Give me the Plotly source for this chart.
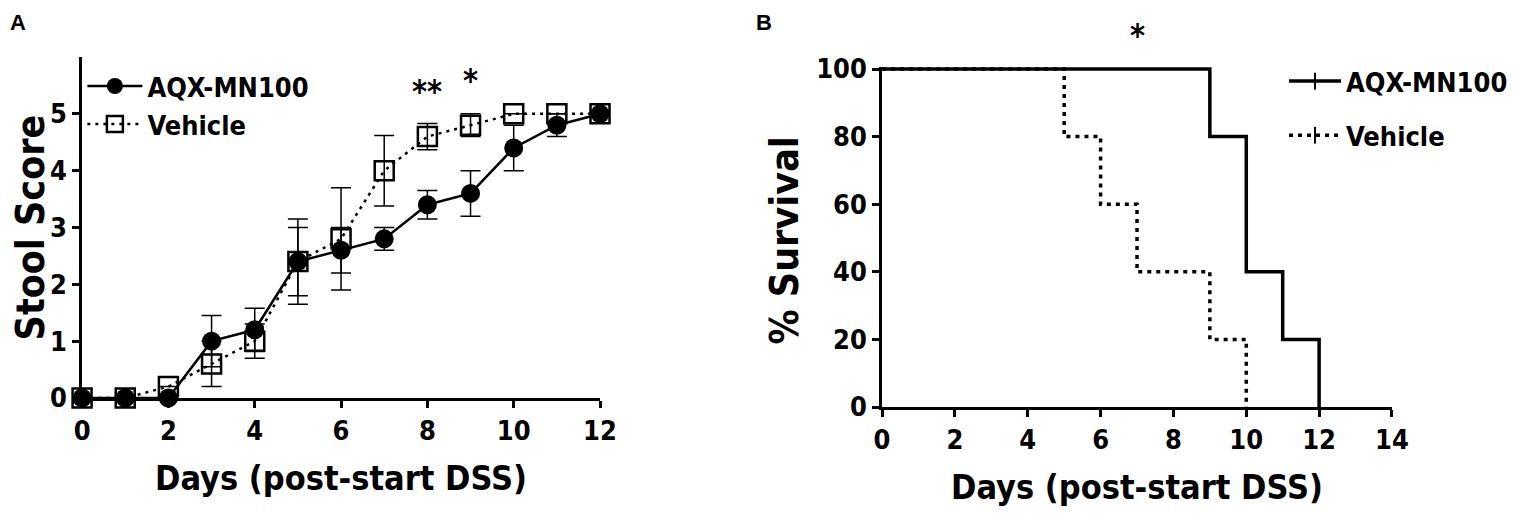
import plotly.graph_objects as go

# Panel A: stool score over time
days = [0, 1, 2, 3, 4, 5, 6, 7, 8, 9, 10, 11, 12]
aqx_score = [0, 0, 0, 1.0, 1.2, 2.4, 2.6, 2.8, 3.4, 3.6, 4.4, 4.8, 5.0]
aqx_err = [0, 0, 0, 0.45, 0.38, 0.6, 0.4, 0.2, 0.25, 0.4, 0.4, 0.2, 0]
veh_score = [0, 0, 0.2, 0.6, 1.0, 2.4, 2.8, 4.0, 4.6, 4.8, 5.0, 5.0, 5.0]
veh_err = [0, 0, 0, 0.4, 0.3, 0.75, 0.9, 0.62, 0.23, 0.2, 0, 0, 0]

# Panel B: survival curves (percent)
aqx_surv_days = [0, 9, 10, 11, 12]
aqx_surv = [100, 80, 40, 20, 0]
veh_surv_days = [0, 5, 6, 7, 9, 10]
veh_surv = [100, 80, 60, 40, 20, 0]

FONT = "DejaVu Sans Condensed, Liberation Sans, Arial, sans-serif"
BLACK = "black"

fig = go.Figure()

# vehicle first so AQX circles sit on top
fig.add_trace(go.Scatter(
    x=days, y=veh_score, name="Vehicle", mode="lines+markers",
    line=dict(color=BLACK, width=2.5, dash="3px,5px"),
    marker=dict(symbol="square-open", size=19, color=BLACK, line=dict(width=2.5)),
    error_y=dict(type="data", array=veh_err, color=BLACK, thickness=1.5, width=10),
    cliponaxis=False, legend="legend",
))
fig.add_trace(go.Scatter(
    x=days, y=aqx_score, name="AQX-MN100", mode="lines+markers",
    line=dict(color=BLACK, width=2.5),
    marker=dict(symbol="circle", size=19, color=BLACK),
    error_y=dict(type="data", array=aqx_err, color=BLACK, thickness=1.5, width=10),
    cliponaxis=False, legend="legend",
))

fig.add_trace(go.Scatter(
    x=aqx_surv_days + [aqx_surv_days[-1]], y=aqx_surv + [aqx_surv[-1]],
    mode="lines", line=dict(color=BLACK, width=3.5, shape="hv"),
    xaxis="x2", yaxis="y2", showlegend=False,
))
fig.add_trace(go.Scatter(
    x=veh_surv_days + [veh_surv_days[-1]], y=veh_surv + [veh_surv[-1]],
    mode="lines", line=dict(color=BLACK, width=3.5, shape="hv", dash="4px,5px"),
    xaxis="x2", yaxis="y2", showlegend=False,
))
# legend-only entries for panel B
fig.add_trace(go.Scatter(
    x=[None], y=[None], name="AQX-MN100", mode="lines+markers",
    line=dict(color=BLACK, width=3.5),
    marker=dict(symbol="line-ns", size=12, color=BLACK, line=dict(width=2, color=BLACK)),
    xaxis="x2", yaxis="y2", legend="legend2", legendgroup="a",
))
fig.add_trace(go.Scatter(
    x=[None], y=[None], name="Vehicle", mode="lines+markers",
    line=dict(color=BLACK, width=3.5, dash="4px,5px"),
    marker=dict(symbol="line-ns", size=12, color=BLACK, line=dict(width=2, color=BLACK)),
    xaxis="x2", yaxis="y2", legend="legend2", legendgroup="b",
))

axis_common = dict(
    showline=True, linecolor=BLACK, linewidth=2.5, ticks="outside",
    ticklen=7, tickwidth=2.5, tickcolor=BLACK, showgrid=False, zeroline=False,
    tickfont=dict(family=FONT, size=27, color=BLACK, weight="bold"),
)
xtitle_font = dict(family=FONT, size=34, color=BLACK, weight="bold")
ytitle_font = dict(family=FONT, size=39, color=BLACK, weight="bold")
legend_font = dict(family=FONT, size=27, color=BLACK, weight="bold")

fig.update_layout(
    width=1518, height=522,
    margin=dict(l=0, r=0, t=0, b=0, autoexpand=False),
    paper_bgcolor="white", plot_bgcolor="white",
    font=dict(family=FONT, color=BLACK),
    xaxis=dict(domain=[0.0488, 0.39], range=[0, 12], tickvals=[0, 2, 4, 6, 8, 10, 12],
               title=dict(text="Days (post-start DSS)", font=xtitle_font, standoff=22),
               anchor="y", automargin=False, **axis_common),
    yaxis=dict(domain=[0.2529, 0.9061], range=[0, 6], tickvals=[0, 1, 2, 3, 4, 5],
               title=dict(text="Stool Score", font=ytitle_font, standoff=22),
               anchor="x", automargin=False, **axis_common),
    xaxis2=dict(domain=[0.5758, 0.9117], range=[0, 14], tickvals=[0, 2, 4, 6, 8, 10, 12, 14],
                title=dict(text="Days (post-start DSS)", font=xtitle_font, standoff=22),
                anchor="y2", automargin=False, **axis_common),
    yaxis2=dict(domain=[0.2356, 0.887], range=[0, 100.6], tickvals=[0, 20, 40, 60, 80, 100],
                anchor="x2", automargin=False, **axis_common),
    legend=dict(x=0.049, y=0.8966, xanchor="left", yanchor="top", traceorder="reversed",
                font=legend_font, bgcolor="rgba(0,0,0,0)", itemwidth=55),
    legend2=dict(x=0.8406, y=0.906, xanchor="left", yanchor="top", tracegroupgap=16,
                 font=legend_font, bgcolor="rgba(0,0,0,0)", itemwidth=52),
    showlegend=True,
)

# panel B y title as a rotated annotation so it can sit exactly where wanted
fig.add_annotation(x=0.5112, y=0.5546, xref="paper", yref="paper", text="% Survival",
                   textangle=-90, showarrow=False, xanchor="center", yanchor="middle",
                   font=ytitle_font)

star_font = dict(family=FONT, size=32, color=BLACK, weight="bold")
fig.add_annotation(x=8, y=5.4, xref="x", yref="y", text="**", showarrow=False, font=star_font)
fig.add_annotation(x=9, y=5.6, xref="x", yref="y", text="*", showarrow=False, font=star_font)
fig.add_annotation(x=7, y=0.989, xref="x2", yref="paper", text="*", showarrow=False, font=star_font)

letter_font = dict(family="Liberation Sans, Arial, sans-serif", size=22, color=BLACK, weight="bold")
fig.add_annotation(x=0.0, y=1.0, xref="paper", yref="paper", text="A", showarrow=False,
                   xanchor="left", yanchor="top", font=letter_font)
fig.add_annotation(x=0.4914, y=1.0, xref="paper", yref="paper", text="B", showarrow=False,
                   xanchor="left", yanchor="top", font=letter_font)

fig.write_html("out.html")
